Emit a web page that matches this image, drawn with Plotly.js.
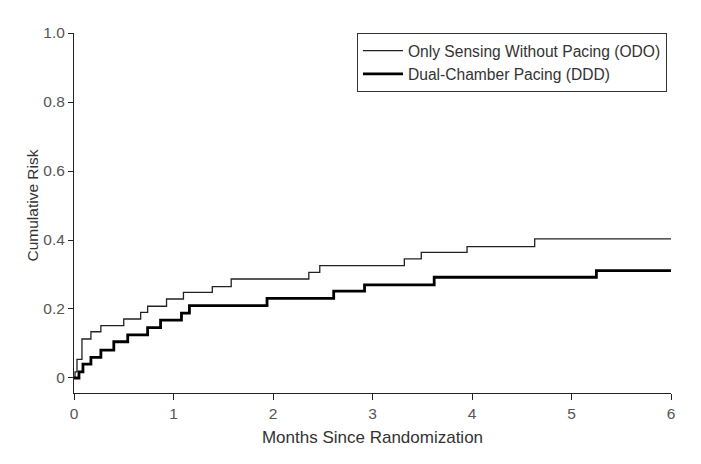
<!DOCTYPE html>
<html>
<head>
<meta charset="utf-8">
<script src="https://cdn.plot.ly/plotly-3.0.1.min.js"></script>
<style>html,body{margin:0;padding:0;background:#fff;}#chart{width:701px;height:464px;}</style>
</head>
<body>
<div id="chart"></div>
<script>
const odoMonths = [0, 0.01, 0.03, 0.08, 0.17, 0.27, 0.50, 0.67, 0.74, 0.93, 1.10, 1.39, 1.58, 2.36, 2.47, 3.32, 3.49, 3.95, 4.63, 6.0];
const odoRisk   = [0, 0.018, 0.054, 0.113, 0.134, 0.152, 0.171, 0.19, 0.208, 0.229, 0.248, 0.265, 0.287, 0.306, 0.326, 0.345, 0.364, 0.381, 0.403, 0.403];
const dddMonths = [0, 0.05, 0.09, 0.17, 0.27, 0.40, 0.54, 0.74, 0.87, 1.08, 1.16, 1.94, 2.61, 2.92, 3.62, 5.25, 6.0];
const dddRisk   = [0, 0.018, 0.04, 0.06, 0.081, 0.105, 0.125, 0.146, 0.168, 0.188, 0.21, 0.231, 0.252, 0.27, 0.292, 0.311, 0.311];
const yTickVals = [0, 0.2, 0.4, 0.6, 0.8, 1.0];
const yTickText = ["0", "0.2", "0.4", "0.6", "0.8", "1.0"];
const xTickVals = [0, 1, 2, 3, 4, 5, 6];
const seriesNames = ["Only Sensing Without Pacing (ODO)", "Dual-Chamber Pacing (DDD)"];
const xTitle = "Months Since Randomization";
const yTitle = "Cumulative Risk";

const font = "Arial, 'Liberation Sans', Helvetica, sans-serif";
const traces = [
  {x: odoMonths, y: odoRisk, name: seriesNames[0], mode: "lines", line: {shape: "hv", color: "#222", width: 1.3}},
  {x: dddMonths, y: dddRisk, name: seriesNames[1], mode: "lines", line: {shape: "hv", color: "#000", width: 2.8}}
];
const layout = {
  width: 701, height: 464,
  margin: {l: 74, r: 30, t: 33, b: 71},
  paper_bgcolor: "#fff", plot_bgcolor: "#fff",
  font: {family: font, color: "#444", size: 15},
  showlegend: true,
  legend: {x: 0.474, y: 1, xanchor: "left", yanchor: "top", bordercolor: "#333", borderwidth: 1,
           itemwidth: 40,
           font: {family: font, size: 15.6, color: "#333"}, bgcolor: "#fff"},
  xaxis: {range: [0, 6], tickvals: xTickVals, ticks: "outside", ticklen: 6, tickcolor: "#222",
          showline: true, linecolor: "#222", linewidth: 1, showgrid: false, zeroline: false,
          tickfont: {size: 15.5, color: "#555"},
          title: {text: xTitle, font: {size: 17, color: "#333"}, standoff: 10}},
  yaxis: {range: [-0.0435, 1.0], tickvals: yTickVals, ticktext: yTickText, ticks: "outside", ticklen: 5, tickcolor: "#222",
          showline: true, linecolor: "#222", linewidth: 1, showgrid: false, zeroline: false,
          tickfont: {size: 15.5, color: "#555"}},
  annotations: [{text: yTitle, textangle: -90, xref: "paper", yref: "y", x: 0, y: 0.5,
                 xanchor: "center", yanchor: "middle", xshift: -42, showarrow: false,
                 font: {family: font, size: 15.5, color: "#333"}}]
};
Plotly.newPlot("chart", traces, layout, {staticPlot: true, displayModeBar: false});
</script>
</body>
</html>
